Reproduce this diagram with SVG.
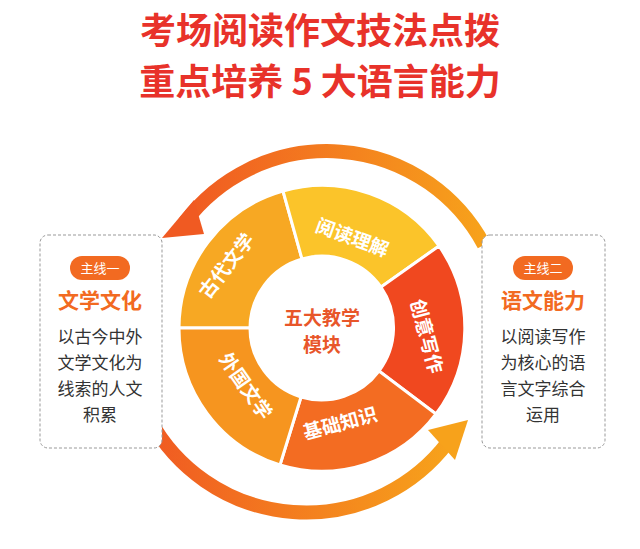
<svg xmlns="http://www.w3.org/2000/svg" width="640" height="549" viewBox="0 0 640 549">
<style>
.t{font-family:"Noto Sans CJK SC","Noto Sans",sans-serif;font-weight:bold;fill:#e8322a;text-anchor:middle}
.seg{font-family:"Noto Sans CJK SC",sans-serif;font-size:19px;fill:#fff;text-anchor:middle;font-weight:bold}
.box{fill:#fff;stroke:#999;stroke-dasharray:3 2;stroke-width:1}
.pill{fill:#f26a21}
.pt{font-family:"Noto Sans CJK SC",sans-serif;font-size:13px;fill:#fff;text-anchor:middle}
.h{font-family:"Noto Sans CJK SC",sans-serif;font-size:21px;font-weight:bold;fill:#f26a21;text-anchor:middle}
.b{font-family:"Noto Sans CJK SC",sans-serif;font-size:17px;fill:#333;text-anchor:middle}
.arc{fill:none;stroke-width:14}
</style>
<defs>
<linearGradient id="ga" x1="1" y1="0" x2="0" y2="0"><stop offset="0" stop-color="#f7a21b"/><stop offset="1" stop-color="#f05a22"/></linearGradient>
<linearGradient id="gb" x1="0" y1="0" x2="1" y2="0"><stop offset="0" stop-color="#f05a22"/><stop offset="1" stop-color="#f7a21b"/></linearGradient>
</defs>
<rect width="640" height="549" fill="#fff"/>
<text class="t" x="320" y="44" font-size="36">考场阅读作文技法点拨</text>
<text class="t" x="320" y="95" font-size="36">重点培养 5 大语言能力</text>
<g id="connectors">
<path class="arc" stroke="url(#ga)" d="M484,245 A178,178 0 0 0 185,222"/>
<polygon fill="#f05a22" points="162,238 194,200 204,234"/>
<path class="arc" stroke="url(#gb)" d="M150,420 A178,178 0 0 0 448,442"/>
<polygon fill="#f7a21b" points="468,420 428,430 455,460"/>
</g>
<g id="wheel" stroke="#fff" stroke-width="3">
<path fill="#f7a823" d="M179,328 A143,143 0 0 1 283,191 L302,259 A72,72 0 0 0 250,328Z"/>
<path fill="#fbc42a" d="M283,191 A143,143 0 0 1 439,246 L381,287 A72,72 0 0 0 302,259Z"/>
<path fill="#f0481f" d="M439,246 A143,143 0 0 1 436,414 L379,371 A72,72 0 0 0 381,287Z"/>
<path fill="#f36c22" d="M436,414 A143,143 0 0 1 280,465 L301,397 A72,72 0 0 0 379,371Z"/>
<path fill="#f6951f" d="M280,465 A143,143 0 0 1 179,328 L250,328 A72,72 0 0 0 301,397Z"/>
<circle cx="322" cy="328" r="70" fill="#fff"/>
</g>
<g id="segtext" stroke="none">
<text class="seg" transform="translate(232,270) rotate(-52)">古代文学</text>
<text class="seg" transform="translate(350,244) rotate(20)">阅读理解</text>
<text class="seg" transform="translate(420,338) rotate(75)">创意写作</text>
<text class="seg" transform="translate(342,430) rotate(-15)">基础知识</text>
<text class="seg" transform="translate(240,390) rotate(55)">外国文学</text>
<text x="322" y="325" font-family="Noto Sans CJK SC,sans-serif" font-size="19" font-weight="bold" fill="#e8562a" text-anchor="middle">五大教学</text>
<text x="322" y="352" font-family="Noto Sans CJK SC,sans-serif" font-size="19" font-weight="bold" fill="#e8562a" text-anchor="middle">模块</text>
</g>
<g id="left">
<rect class="box" x="40" y="235" width="122" height="213" rx="8"/>
<rect class="pill" x="70" y="256" width="60" height="24" rx="12"/>
<text class="pt" x="100" y="273">主线一</text>
<text class="h" x="100" y="308">文学文化</text>
<text class="b" x="100" y="343">以古今中外</text>
<text class="b" x="100" y="369">文学文化为</text>
<text class="b" x="100" y="395">线索的人文</text>
<text class="b" x="100" y="421">积累</text>
</g>
<g id="right">
<rect class="box" x="482" y="235" width="123" height="213" rx="8"/>
<rect class="pill" x="513" y="256" width="60" height="24" rx="12"/>
<text class="pt" x="543" y="273">主线二</text>
<text class="h" x="543" y="308">语文能力</text>
<text class="b" x="543" y="343">以阅读写作</text>
<text class="b" x="543" y="369">为核心的语</text>
<text class="b" x="543" y="395">言文字综合</text>
<text class="b" x="543" y="421">运用</text>
</g>
</svg>
